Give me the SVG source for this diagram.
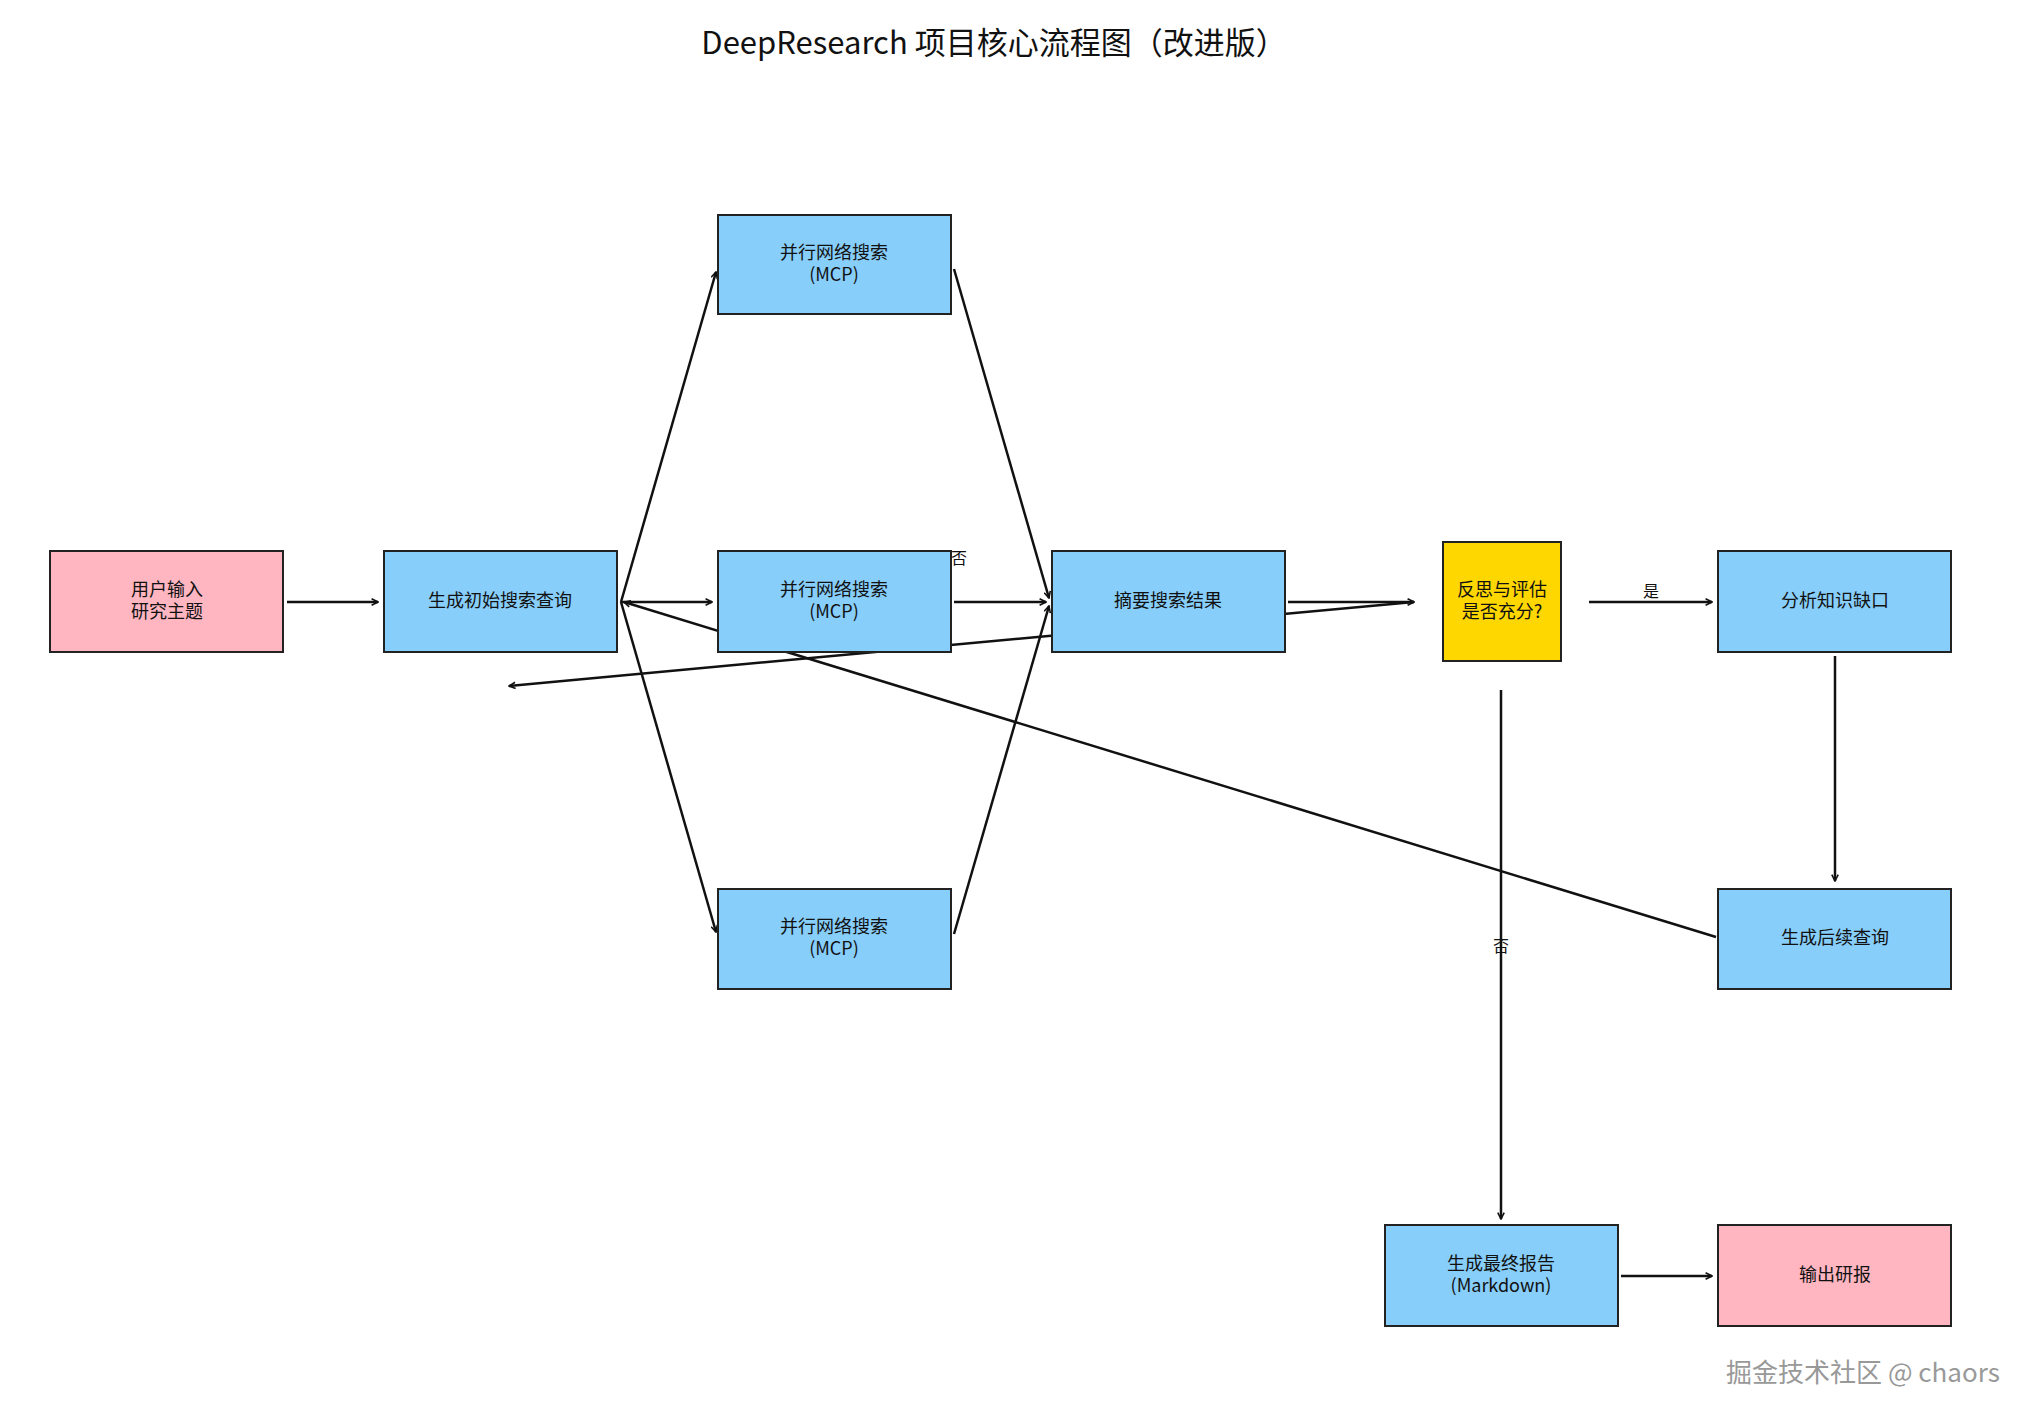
<svg xmlns="http://www.w3.org/2000/svg" width="2018" height="1416" viewBox="0 0 2018 1416">
<defs>
<marker id="ah" viewBox="0 0 10 10" refX="9" refY="5" markerWidth="8" markerHeight="8" orient="auto" markerUnits="userSpaceOnUse"><path d="M1,1 L9,5 L1,9" fill="none" stroke="#111" stroke-width="2"/></marker>
<style>
text{font-family:"Noto Sans CJK SC","Noto Sans",sans-serif;fill:#111;text-anchor:middle}
.n{font-size:18px}
.b{fill:#87CEFA;stroke:#222;stroke-width:2}
.p{fill:#FFB6C1;stroke:#222;stroke-width:2}
.y{fill:#FFD700;stroke:#222;stroke-width:2}
.c line{stroke:#111;stroke-width:2.5;marker-end:url(#ah)}
.l{font-size:16px}
</style>
</defs>
<rect width="2018" height="1416" fill="#fff"/>
<text x="994" y="54" style="font-size:31px">DeepResearch 项目核心流程图（改进版）</text>
<g class="c">
<line x1="287" y1="602" x2="378" y2="602"/>
<line x1="621" y1="602" x2="716" y2="272"/>
<line x1="621" y1="602" x2="712" y2="602"/>
<line x1="621" y1="602" x2="716" y2="932"/>
<line x1="954" y1="269" x2="1049" y2="598"/>
<line x1="954" y1="602" x2="1046" y2="602"/>
<line x1="954" y1="934" x2="1049" y2="606"/>
<line x1="1288" y1="602" x2="1414" y2="602"/>
<line x1="1414" y1="602" x2="509" y2="686"/>
<line x1="1589" y1="602" x2="1712" y2="602"/>
<line x1="1501" y1="690" x2="1501" y2="1219"/>
<line x1="1835" y1="656" x2="1835" y2="881"/>
<line x1="1716" y1="937" x2="624" y2="602"/>
<line x1="1621" y1="1276" x2="1712" y2="1276"/>
</g>
<text class="l" x="959" y="564">否</text>
<text class="l" x="1651" y="597">是</text>
<text class="l" x="1501" y="952">否</text>
<g id="n1"><rect class="p" x="50" y="551" width="233" height="101"/><text class="n" x="167" y="596">用户输入</text><text class="n" x="167" y="618">研究主题</text></g>
<g id="n2"><rect class="b" x="384" y="551" width="233" height="101"/><text class="n" x="500" y="607">生成初始搜索查询</text></g>
<g id="n3"><rect class="b" x="718" y="215" width="233" height="99"/><text class="n" x="834" y="259">并行网络搜索</text><text class="n" x="834" y="281">(MCP)</text></g>
<g id="n4"><rect class="b" x="718" y="551" width="233" height="101"/><text class="n" x="834" y="596">并行网络搜索</text><text class="n" x="834" y="618">(MCP)</text></g>
<g id="n5"><rect class="b" x="718" y="889" width="233" height="100"/><text class="n" x="834" y="933">并行网络搜索</text><text class="n" x="834" y="955">(MCP)</text></g>
<g id="n6"><rect class="b" x="1052" y="551" width="233" height="101"/><text class="n" x="1168" y="607">摘要搜索结果</text></g>
<g id="n7"><rect class="y" x="1443" y="542" width="118" height="119"/><text class="n" x="1502" y="596">反思与评估</text><text class="n" x="1502" y="618">是否充分?</text></g>
<g id="n8"><rect class="b" x="1718" y="551" width="233" height="101"/><text class="n" x="1835" y="607">分析知识缺口</text></g>
<g id="n9"><rect class="b" x="1718" y="889" width="233" height="100"/><text class="n" x="1835" y="944">生成后续查询</text></g>
<g id="n10"><rect class="b" x="1385" y="1225" width="233" height="101"/><text class="n" x="1501" y="1270">生成最终报告</text><text class="n" x="1501" y="1292">(Markdown)</text></g>
<g id="n11"><rect class="p" x="1718" y="1225" width="233" height="101"/><text class="n" x="1835" y="1281">输出研报</text></g>
<text x="1863" y="1382" style="font-size:26px;fill:#999">掘金技术社区 @ chaors</text>
</svg>
